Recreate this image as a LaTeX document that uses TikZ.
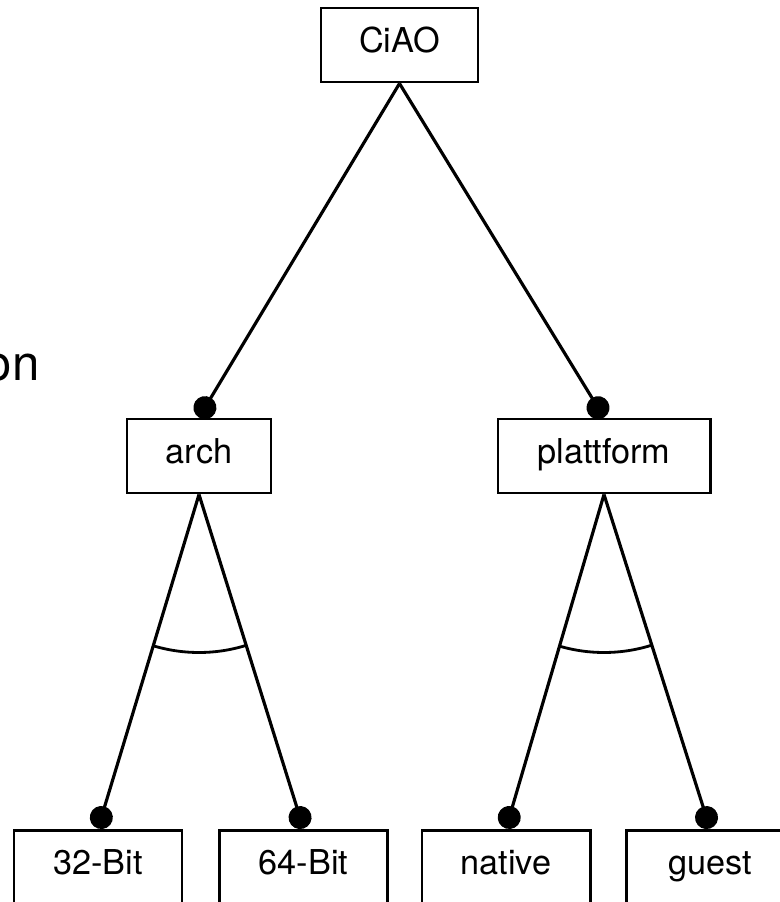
\documentclass[tikz,border=0pt]{standalone}
\usepackage{fontspec}
\setmainfont{TeX Gyre Heros}
\usetikzlibrary{arrows.meta}

\begin{document}
\begin{tikzpicture}[node distance=8.22cm]
	\tikzstyle{feature} = [rectangle, minimum height=1.48cm, text centered, 
	text height=1.0em, text depth=0.2em, draw=black, line width=1.7pt, 
	fill=white, font=\fontsize{19.5}{23}\selectfont]
	\tikzstyle{leaf} = [feature, minimum width=3.36cm]
	\tikzstyle{edge} = [line width=1.8pt, -{Circle[length=0.46cm]}]
	\tikzstyle{alt} = [line width=1.6pt]
	\useasboundingbox (0,0) rectangle (15.58,-18.04);
	\node (ciao) [feature, minimum width=3.14cm] at (7.99,-0.90) {CiAO};
	\node (arch) [feature, minimum width=2.88cm, below of=ciao, xshift=-4.01cm] {arch};
	\node (plattform) [feature, minimum width=4.24cm, below of=ciao, xshift=4.09cm] {plattform};
	\node (bit32) [leaf, below of=arch, xshift=-2.02cm] {32-Bit};
	\node (bit64) [leaf, below of=arch, xshift=2.09cm] {64-Bit};
	\node (native) [leaf, below of=plattform, xshift=-1.96cm] {native};
	\node (guest) [leaf, below of=plattform, xshift=2.12cm] {guest};
	\node (frag) [anchor=base east, inner sep=0pt, font=\fontsize{28}{32}\selectfont] at (0.80,-7.60) {on};
	\draw [edge] (ciao.south) -- (arch.north);
	\draw [edge] (ciao.south) -- (plattform.north);
	\draw [edge] (arch.south) -- (bit32.north);
	\draw [edge] (arch.south) -- (bit64.north);
	\draw [edge] (plattform.south) -- (native.north);
	\draw [edge] (plattform.south) -- (guest.north);
	% alternative groups
	\begin{scope}
		\clip (arch.south) -- (bit32.north) -- (bit64.north) -- cycle;
		\draw [alt] (arch.south) circle [radius=3.16cm];
	\end{scope}
	\begin{scope}
		\clip (plattform.south) -- (native.north) -- (guest.north) -- cycle;
		\draw [alt] (plattform.south) circle [radius=3.16cm];
	\end{scope}
\end{tikzpicture}
\end{document}
